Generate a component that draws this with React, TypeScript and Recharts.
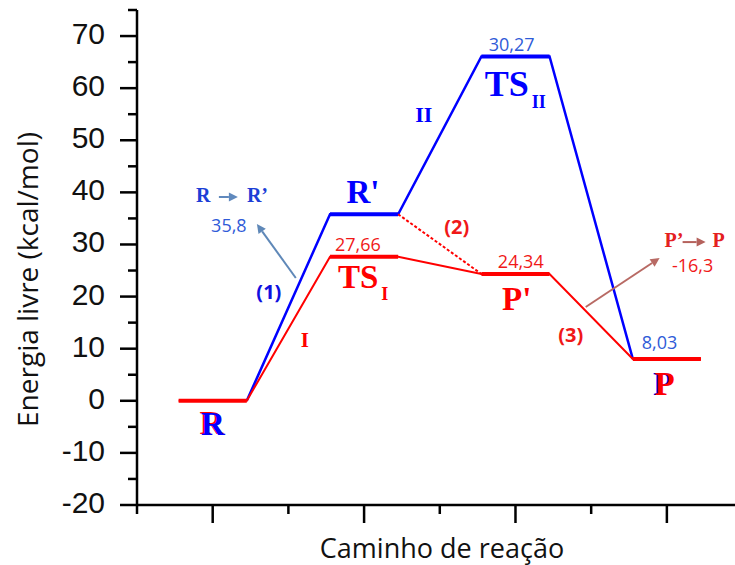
import { LineChart, Line, XAxis, YAxis, ReferenceDot, ReferenceLine } from "recharts";

// reaction stages (x centres) and free energies (kcal/mol)
const stages = [1, 2, 3, 4];
const redEnergy = [0, 27.66, 24.34, 8.03]; // R, TS_I, P', P
const blueEnergy = [0, 35.8, 66.07, 8.03]; // R, R', TS_II, P
const halfWidth = 0.225;

const yMajor = [-20, -10, 0, 10, 20, 30, 40, 50, 60, 70];
const yMinor = [-15, -5, 5, 15, 25, 35, 45, 55, 65, 75];
const xMajor = [1, 2, 3, 4];
const xMinor = [0.5, 1.5, 2.5, 3.5];

const BLUE = "#0000ff";
const RED = "#ff0000";
const BLUE_TXT = "#2f5bd8";
const RED_TXT = "#f01818";

const SERIF = '"Liberation Serif", "Times New Roman", serif';
const SANS = '"Open Sans", "Noto Sans", sans-serif';
const ARIAL = '"Liberation Sans", Arial, sans-serif';

// annotation anchors, in data units
const valueLabels = [
  { x: 1.107, y: 32.4, text: "35,8", color: BLUE_TXT },
  { x: 1.959, y: 28.75, text: "27,66", color: RED_TXT },
  { x: 2.975, y: 67.13, text: "30,27", color: BLUE_TXT },
  { x: 3.035, y: 25.49, text: "24,34", color: RED_TXT },
  { x: 3.952, y: 9.94, text: "8,03", color: BLUE_TXT },
  { x: 4.17, y: 24.72, text: "-16,3", color: RED_TXT },
];

const stepLabels = [
  { x: 1.371, y: 19.6, text: "(1)", color: "#1010e0" },
  { x: 2.612, y: 32.0, text: "(2)", color: RED_TXT },
  { x: 3.365, y: 11.3, text: "(3)", color: RED_TXT },
];

const romanLabels = [
  { x: 1.609, y: 10.33, text: "I", color: RED, size: 21 },
  { x: 2.394, y: 53.5, text: "II", color: BLUE, size: 22 },
];

const speciesLabels = [
  { x: 1.992, y: 37.96, text: "R'", color: BLUE, size: 33 },
  { x: 3.008, y: 17.43, text: "P'", color: RED, size: 33 },
];

const tsLabels = [
  { x: 1.827, y: 21.65, sub: "I", color: RED, size: 33 },
  { x: 2.797, y: 58.5, sub: "II", color: BLUE, size: 36 },
];

// doubled (red/blue) labels
const endLabels = [
  { x: 1.002, y: -6.56, text: "R", front: BLUE, back: RED },
  { x: 3.985, y: 1.11, text: "P", front: RED, back: BLUE },
];

const stepNotes = [
  { x: 0.889, y: 38.15, from: "R", to: "R’", color: "#1c3fd6", arrow: "#6089bd", gap: [23, 42], toX: 51 },
  { x: 3.985, y: 29.5, from: "P’", to: "P", color: "#e42020", arrow: "#b5625c", gap: [18, 41], toX: 48 },
];

const arrows = [
  { x1: 1.549, y1: 23.57, x2: 1.292, y2: 33.93, color: "#5f88b8" },
  { x1: 3.464, y1: 18.0, x2: 3.952, y2: 27.4, color: "#b86a64" },
];

const levelPoints = (energy: number[]) =>
  stages.map((s, i) => [
    { x: s - halfWidth, y: energy[i] },
    { x: s + halfWidth, y: energy[i] },
  ]);

const redLevels = levelPoints(redEnergy);
const blueLevels = levelPoints(blueEnergy);
const redPath = redLevels.flat();
const bluePath = blueLevels.flat().slice(1, -1);
const dottedPath = [blueLevels[1][1], redLevels[2][0]];

const YTick = (props: any) => {
  const { x, y, payload } = props;
  const major = yMajor.includes(payload.value);
  return (
    <g>
      <line x1={x - (major ? 17 : 9)} x2={x} y1={y} y2={y} stroke="#000" strokeWidth={2.5} />
      {major && (
        <text x={x - 32} y={y + 8} textAnchor="end" fontSize={30} fontFamily={ARIAL} fill="#111">
          {payload.value}
        </text>
      )}
    </g>
  );
};

const XTick = (props: any) => {
  const { x, y, payload } = props;
  const major = xMajor.includes(payload.value);
  return <line x1={x} x2={x} y1={y} y2={y + (major ? 18 : 9)} stroke="#000" strokeWidth={2.5} />;
};

const ArrowShape = (props: any) => {
  const { x1, y1, x2, y2, color } = props;
  const a = Math.atan2(y2 - y1, x2 - x1);
  const len = 9;
  const w = 4.5;
  const bx = x2 - len * Math.cos(a);
  const by = y2 - len * Math.sin(a);
  const pts = [
    [x2, y2],
    [bx + w * Math.sin(a), by - w * Math.cos(a)],
    [bx - w * Math.sin(a), by + w * Math.cos(a)],
  ]
    .map((p) => p.join(","))
    .join(" ");
  return (
    <g>
      <line x1={x1} y1={y1} x2={bx} y2={by} stroke={color} strokeWidth={2} />
      <polygon points={pts} fill={color} />
    </g>
  );
};

export default function App() {
  return (
    <div style={{ position: "absolute", left: 0, top: 0, background: "#fff" }}>
      <LineChart width={735} height={565} margin={{ top: 10, right: 0, bottom: 0, left: 0 }}>
        <XAxis
          type="number"
          dataKey="x"
          domain={[0.5, 4.45]}
          allowDataOverflow
          ticks={[...xMinor, ...xMajor].sort((a, b) => a - b)}
          interval={0}
          tickLine={false}
          tickSize={0}
          tickMargin={0}
          height={60}
          axisLine={{ stroke: "#000", strokeWidth: 2.5 }}
          tick={(p: any) => <XTick {...p} />}
          label={{
            value: "Caminho de reação",
            position: "insideBottom",
            offset: 7,
            dx: 6,
            style: { fontSize: 27, fontFamily: SANS, fill: "#111" },
          }}
        />
        <YAxis
          type="number"
          domain={[-20, 75]}
          allowDataOverflow
          ticks={[...yMajor, ...yMinor].sort((a, b) => a - b)}
          interval={0}
          tickLine={false}
          tickSize={0}
          tickMargin={0}
          width={137}
          axisLine={{ stroke: "#000", strokeWidth: 2.5 }}
          tick={(p: any) => <YTick {...p} />}
          label={{
            content: (p: any) => {
              const vb = p.viewBox;
              const cx = vb.x + 27;
              const cy = vb.y + vb.height / 2 + 22;
              return (
                <text
                  x={cx}
                  y={cy}
                  transform={`rotate(-90 ${cx} ${cy})`}
                  textAnchor="middle"
                  dominantBaseline="central"
                  fontSize={28}
                  fontFamily={SANS}
                  fill="#111"
                >
                  Energia livre (kcal/mol)
                </text>
              );
            },
          }}
        />

        <Line data={bluePath} dataKey="y" stroke={BLUE} strokeWidth={2.5} dot={false} activeDot={false} isAnimationActive={false} />
        {blueLevels.slice(1, 3).map((seg, i) => (
          <Line key={`bl${i}`} data={seg} dataKey="y" stroke={BLUE} strokeWidth={4} dot={false} activeDot={false} isAnimationActive={false} />
        ))}
        <Line data={dottedPath} dataKey="y" stroke={RED} strokeWidth={2} strokeDasharray="3 2" dot={false} activeDot={false} isAnimationActive={false} />
        <Line data={redPath} dataKey="y" stroke={RED} strokeWidth={2} dot={false} activeDot={false} isAnimationActive={false} />
        {redLevels.map((seg, i) => (
          <Line key={`rl${i}`} data={seg} dataKey="y" stroke={RED} strokeWidth={4} dot={false} activeDot={false} isAnimationActive={false} />
        ))}

        {arrows.map((a, i) => (
          <ReferenceLine
            key={`ar${i}`}
            segment={[
              { x: a.x1, y: a.y1 },
              { x: a.x2, y: a.y2 },
            ]}
            ifOverflow="visible"
            shape={(p: any) => <ArrowShape {...p} color={a.color} />}
          />
        ))}

        {valueLabels.map((l, i) => (
          <ReferenceDot
            key={`v${i}`}
            x={l.x}
            y={l.y}
            r={0}
            ifOverflow="visible"
            shape={(p: any) => (
              <text x={p.cx} y={p.cy} textAnchor="middle" fontSize={18} fontFamily={SANS} fill={l.color}>
                {l.text}
              </text>
            )}
          />
        ))}
        {stepLabels.map((l, i) => (
          <ReferenceDot
            key={`s${i}`}
            x={l.x}
            y={l.y}
            r={0}
            ifOverflow="visible"
            shape={(p: any) => (
              <text x={p.cx} y={p.cy} textAnchor="middle" fontSize={20} fontWeight="bold" fontFamily={SANS} fill={l.color}>
                {l.text}
              </text>
            )}
          />
        ))}
        {[...romanLabels, ...speciesLabels].map((l, i) => (
          <ReferenceDot
            key={`r${i}`}
            x={l.x}
            y={l.y}
            r={0}
            ifOverflow="visible"
            shape={(p: any) => (
              <text x={p.cx} y={p.cy} textAnchor="middle" fontSize={l.size} fontWeight="bold" fontFamily={SERIF} fill={l.color}>
                {l.text}
              </text>
            )}
          />
        ))}
        {tsLabels.map((l, i) => (
          <ReferenceDot
            key={`t${i}`}
            x={l.x}
            y={l.y}
            r={0}
            ifOverflow="visible"
            shape={(p: any) => (
              <text x={p.cx} y={p.cy} fontWeight="bold" fontFamily={SERIF} fill={l.color}>
                <tspan fontSize={l.size}>TS</tspan>
                <tspan fontSize={18} dx={3} dy={12}>
                  {l.sub}
                </tspan>
              </text>
            )}
          />
        ))}
        {endLabels.map((l, i) => (
          <ReferenceDot
            key={`e${i}`}
            x={l.x}
            y={l.y}
            r={0}
            ifOverflow="visible"
            shape={(p: any) => (
              <g fontSize={33} fontWeight="bold" fontFamily={SERIF} textAnchor="middle">
                <text x={p.cx - 1.5} y={p.cy - 0.5} fill={l.back}>
                  {l.text}
                </text>
                <text x={p.cx} y={p.cy} fill={l.front}>
                  {l.text}
                </text>
              </g>
            )}
          />
        ))}
        {stepNotes.map((n, i) => (
          <ReferenceDot
            key={`n${i}`}
            x={n.x}
            y={n.y}
            r={0}
            ifOverflow="visible"
            shape={(p: any) => (
              <g fontSize={20} fontWeight="bold" fontFamily={SERIF} fill={n.color}>
                <text x={p.cx} y={p.cy}>
                  {n.from}
                </text>
                <ArrowShape x1={p.cx + n.gap[0]} y1={p.cy - 5} x2={p.cx + n.gap[1]} y2={p.cy - 5} color={n.arrow} />
                <text x={p.cx + n.toX} y={p.cy}>
                  {n.to}
                </text>
              </g>
            )}
          />
        ))}
      </LineChart>
    </div>
  );
}
